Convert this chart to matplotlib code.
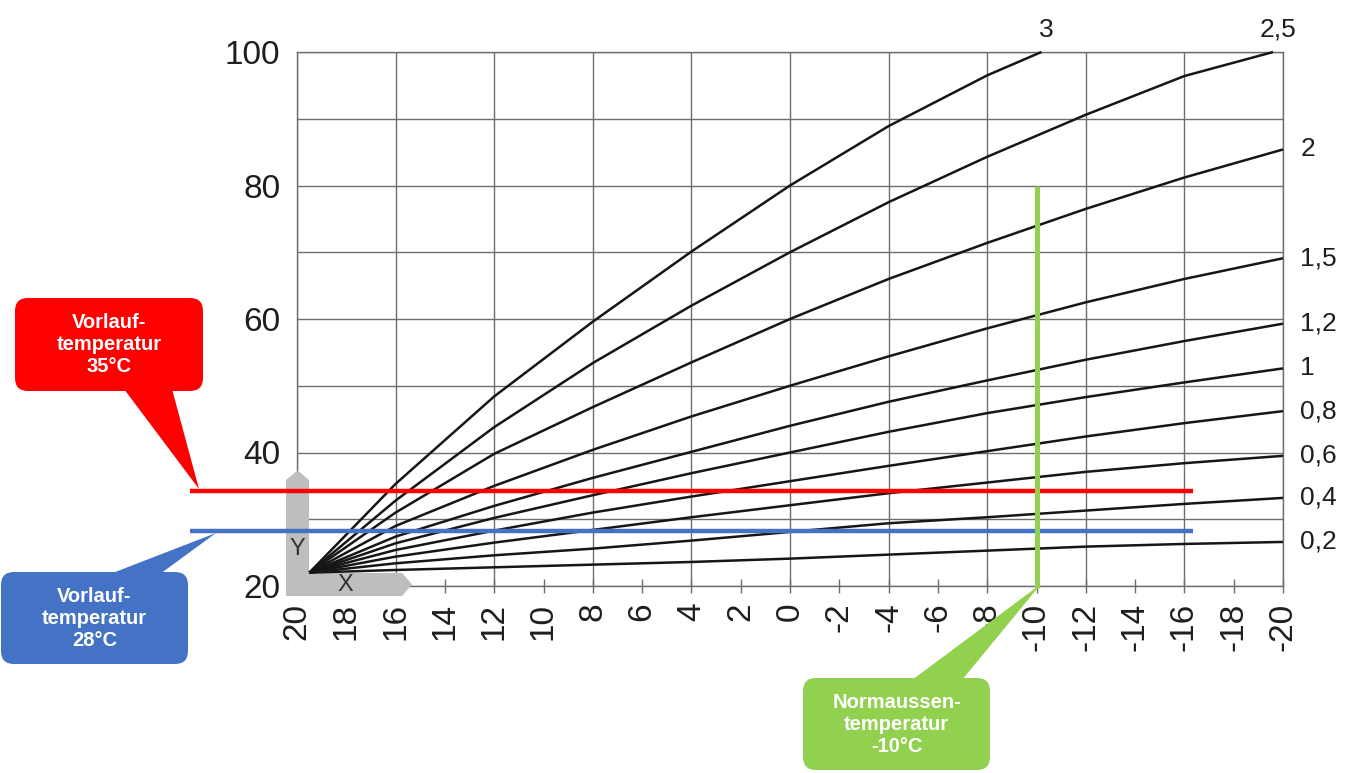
import matplotlib.pyplot as plt
import matplotlib.transforms as mtransforms
from matplotlib.patches import FancyBboxPatch, Polygon

plt.rcParams['font.family'] = ['Liberation Sans', 'DejaVu Sans']

W, H = 1366, 773

# Aussentemperatur an den Ablesepunkten (Gitterlinien)
outdoor = [19.5, 16, 12, 8, 4, 0, -4, -8, -12, -16, -20]

# Vorlauftemperatur je Heizkurve
curve_3_x = [19.5, 16, 12, 8, 4, 0, -4, -8, -10.2]
curve_3 = [22, 35.3, 48.4, 59.6, 70.1, 80.0, 88.9, 96.5, 100.0]
curve_25_x = [19.5, 16, 12, 8, 4, 0, -4, -8, -12, -16, -19.6]
curve_25 = [22, 32.8, 43.8, 53.4, 62.0, 70.0, 77.5, 84.3, 90.6, 96.4, 100.0]
curve_2 = [22, 31.0, 39.8, 46.8, 53.5, 60.0, 66.0, 71.4, 76.5, 81.2, 85.4]
curve_15 = [22, 29.0, 35.0, 40.4, 45.4, 50.0, 54.4, 58.6, 62.5, 66.0, 69.1]
curve_12 = [22, 27.4, 32.0, 36.2, 40.1, 44.0, 47.6, 50.8, 53.9, 56.7, 59.3]
curve_1 = [22, 26.4, 30.2, 33.6, 36.9, 40.0, 43.1, 45.9, 48.3, 50.5, 52.6]
curve_08 = [22, 25.4, 28.3, 31.0, 33.4, 35.7, 38.0, 40.2, 42.4, 44.4, 46.2]
curve_06 = [22, 24.4, 26.5, 28.4, 30.3, 32.1, 33.9, 35.5, 37.1, 38.4, 39.5]
curve_04 = [22, 23.4, 24.6, 25.6, 26.8, 28.1, 29.4, 30.3, 31.3, 32.3, 33.2]
curve_02 = [22, 22.4, 22.8, 23.2, 23.6, 24.1, 24.7, 25.3, 25.9, 26.3, 26.6]

curve_names = ['3', '2,5', '2', '1,5', '1,2', '1', '0,8', '0,6', '0,4', '0,2']
curves = [
    (curve_3_x, curve_3), (curve_25_x, curve_25), (outdoor, curve_2),
    (outdoor, curve_15), (outdoor, curve_12), (outdoor, curve_1),
    (outdoor, curve_08), (outdoor, curve_06), (outdoor, curve_04),
    (outdoor, curve_02),
]

x_ticks = list(range(20, -21, -2))
x_labels = [str(v) for v in x_ticks]
y_ticks = [20, 40, 60, 80, 100]

# Markierungen (Lage wie im Bild gezeichnet)
supply_35 = 34.2
supply_28 = 28.3
design_outdoor = -10

fig = plt.figure(figsize=(W / 100, H / 100), dpi=100)
ax = fig.add_axes([297 / W, 1 - 586 / H, 986 / W, 534 / H])
ax.set_facecolor('none')

# pixel coordinates (origin top left) for the decorations
px = mtransforms.Affine2D().scale(1 / W, -1 / H).translate(0, 1) + fig.transFigure

ax.set_xlim(20, -20)
ax.set_ylim(20, 100)
ax.set_axisbelow(True)

grid_col = '#6e6e6e'
for gx in range(20, -21, -4):
    ax.axvline(gx, color=grid_col, lw=1.0, zorder=1)
for gy in range(20, 101, 10):
    ax.axhline(gy, color=grid_col, lw=1.0, zorder=1)
for sp in ax.spines.values():
    sp.set_color(grid_col)
    sp.set_linewidth(1.0)
    sp.set_zorder(1)

ax.set_xticks(x_ticks)
ax.set_xticklabels(x_labels, rotation=90, fontsize=24, color='#1e1e1e')
ax.set_yticks(y_ticks)
ax.set_yticklabels([str(v) for v in y_ticks], fontsize=24, color='#1e1e1e')
ax.tick_params(axis='x', direction='inout', length=10, width=1.0,
               color=grid_col, pad=7)
ax.tick_params(axis='y', length=0, pad=12)

# grauer Achsenwinkel X / Y
corner = [(286, 596), (286, 480), (297.5, 470.5), (309, 480), (309, 573),
          (402, 573), (412, 584.5), (402, 596)]
ax.add_patch(Polygon(corner, closed=True, transform=px, fc='#bdbec0',
                     ec='none', clip_on=False, zorder=1.5))
ax.text(297, 549, 'Y', transform=px, fontsize=17, color='#333333',
        ha='center', va='center', zorder=1.6)
ax.text(345, 585, 'X', transform=px, fontsize=17, color='#333333',
        ha='center', va='center', zorder=1.6)

for name, (cx, cy) in zip(curve_names, curves):
    ax.plot(cx, cy, color='#161616', lw=1.8, zorder=3, clip_on=False,
            solid_capstyle='butt', solid_joinstyle='round')
    if cy[-1] >= 100:
        ax.text(cx[-1] - 0.2, 103.3, name, fontsize=19, color='#1e1e1e',
                ha='center', va='center', clip_on=False)
    else:
        ax.text(-20.7, cy[-1], name, fontsize=19, color='#1e1e1e',
                ha='left', va='center', clip_on=False)

ax.plot([24.35, -16.35], [supply_35, supply_35], color='#ff0000', lw=3.2,
        zorder=4, clip_on=False, solid_capstyle='butt')
ax.plot([24.35, -16.35], [supply_28, supply_28], color='#4472c4', lw=3.2,
        zorder=4, clip_on=False, solid_capstyle='butt')
ax.plot([design_outdoor, design_outdoor], [80, 19.7], color='#92d050',
        lw=3.6, zorder=4, clip_on=False, solid_capstyle='butt')


def callout(box, tail, text, color):
    x0, y0, x1, y1 = box
    fig.add_artist(FancyBboxPatch((x0, y0), x1 - x0, y1 - y0,
                                  boxstyle='round,pad=0,rounding_size=13',
                                  transform=px, fc=color, ec='none', zorder=2))
    fig.add_artist(Polygon(tail, closed=True, transform=px, fc=color,
                           ec='none', zorder=2))
    fig.text((x0 + x1) / 2, (y0 + y1) / 2, text, transform=px, color='white',
             fontsize=14.5, fontweight='bold', ha='center', va='center',
             linespacing=1.2, zorder=3)


callout((15, 298, 203, 391), [(124, 389), (172, 389), (199, 489)],
        'Vorlauf-\ntemperatur\n35°C', '#ff0000')
callout((1, 572, 188, 664), [(110, 574), (160, 574), (216, 533)],
        'Vorlauf-\ntemperatur\n28°C', '#4472c4')
callout((803, 678, 990, 770), [(912, 680), (962, 680), (1041, 584)],
        'Normaussen-\ntemperatur\n-10°C', '#92d050')

fig.savefig('out.png', dpi=100)
